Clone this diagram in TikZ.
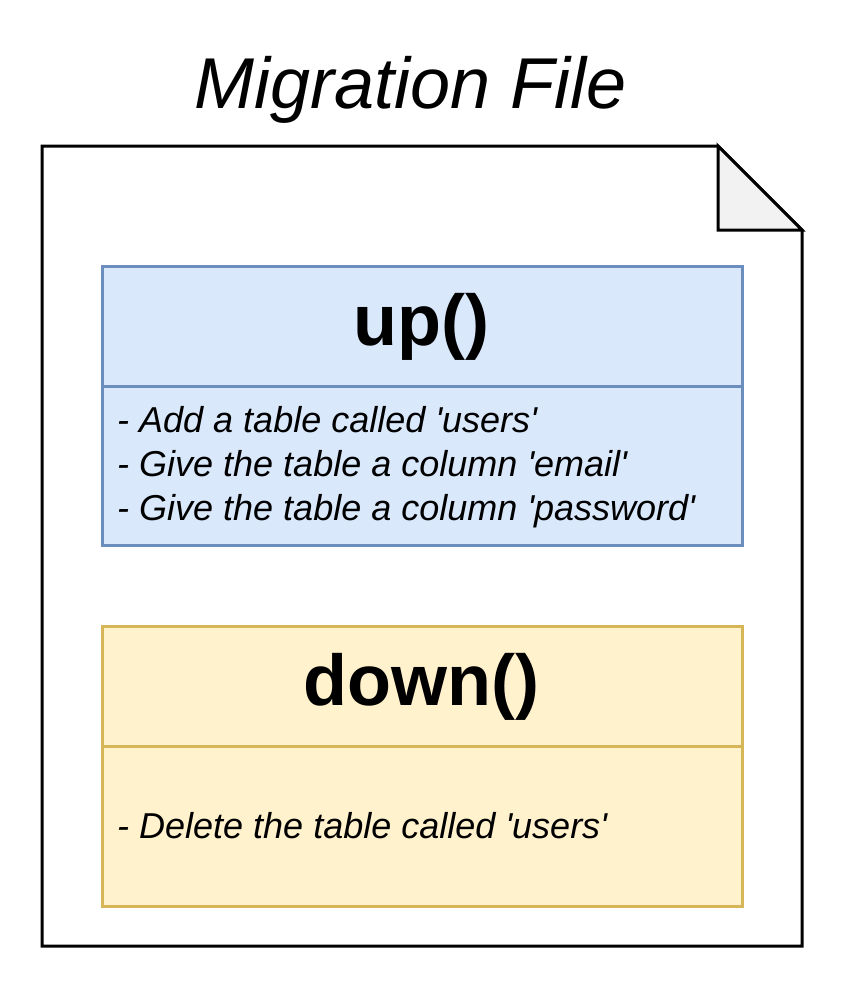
\documentclass[tikz,border=0pt]{standalone}
\usepackage{fontspec}
\setmainfont{Liberation Sans}
\definecolor{upfill}{HTML}{DAE8FC}
\definecolor{upline}{HTML}{6C8EBF}
\definecolor{dnfill}{HTML}{FFF2CC}
\definecolor{dnline}{HTML}{D6B656}
\definecolor{foldfill}{HTML}{F2F2F2}
\newcommand{\sq}{\textquotesingle}
\begin{document}
\begin{tikzpicture}[x=1pt,y=-1pt,
  doc/.style={draw=black,line width=3pt,fill=white,line join=miter},
  fold/.style={draw=black,line width=3pt,fill=foldfill,line join=miter},
  upbox/.style={draw=upline,line width=3pt,fill=upfill},
  dnbox/.style={draw=dnline,line width=3pt,fill=dnfill},
  head/.style={font=\fontsize{72}{80}\selectfont\bfseries,inner sep=0pt},
  body/.style={font=\fontsize{36}{44}\selectfont\itshape,align=left,anchor=west,inner sep=0pt},
  titletext/.style={font=\fontsize{72}{80}\selectfont\itshape,inner sep=0pt,anchor=base}]
\useasboundingbox (0,0) rectangle (843,988);
% document
\draw[doc] (42,146) -- (718,146) -- (802,230) -- (802,946) -- (42,946) -- cycle;
\draw[fold] (718,146) -- (718,230) -- (802,230) -- cycle;
\node[titletext] (title) at (411,108) {Migration File};
% up box
\draw[upbox] (102,266) rectangle (742,545);
\draw[upline,line width=3pt] (102,386) -- (742,386);
\node[head] (up) at (421,327) {up()};
\node[body] (upbody) at (117,467) {- Add a table called \sq users\sq\\- Give the table a column \sq email\sq\\- Give the table a column \sq password\sq};
% down box
\draw[dnbox] (102,626) rectangle (742,906);
\draw[dnline,line width=3pt] (102,746) -- (742,746);
\node[head] (down) at (421,687) {down()};
\node[body] (dnbody) at (117,826) {- Delete the table called \sq users\sq};
\end{tikzpicture}
\end{document}
